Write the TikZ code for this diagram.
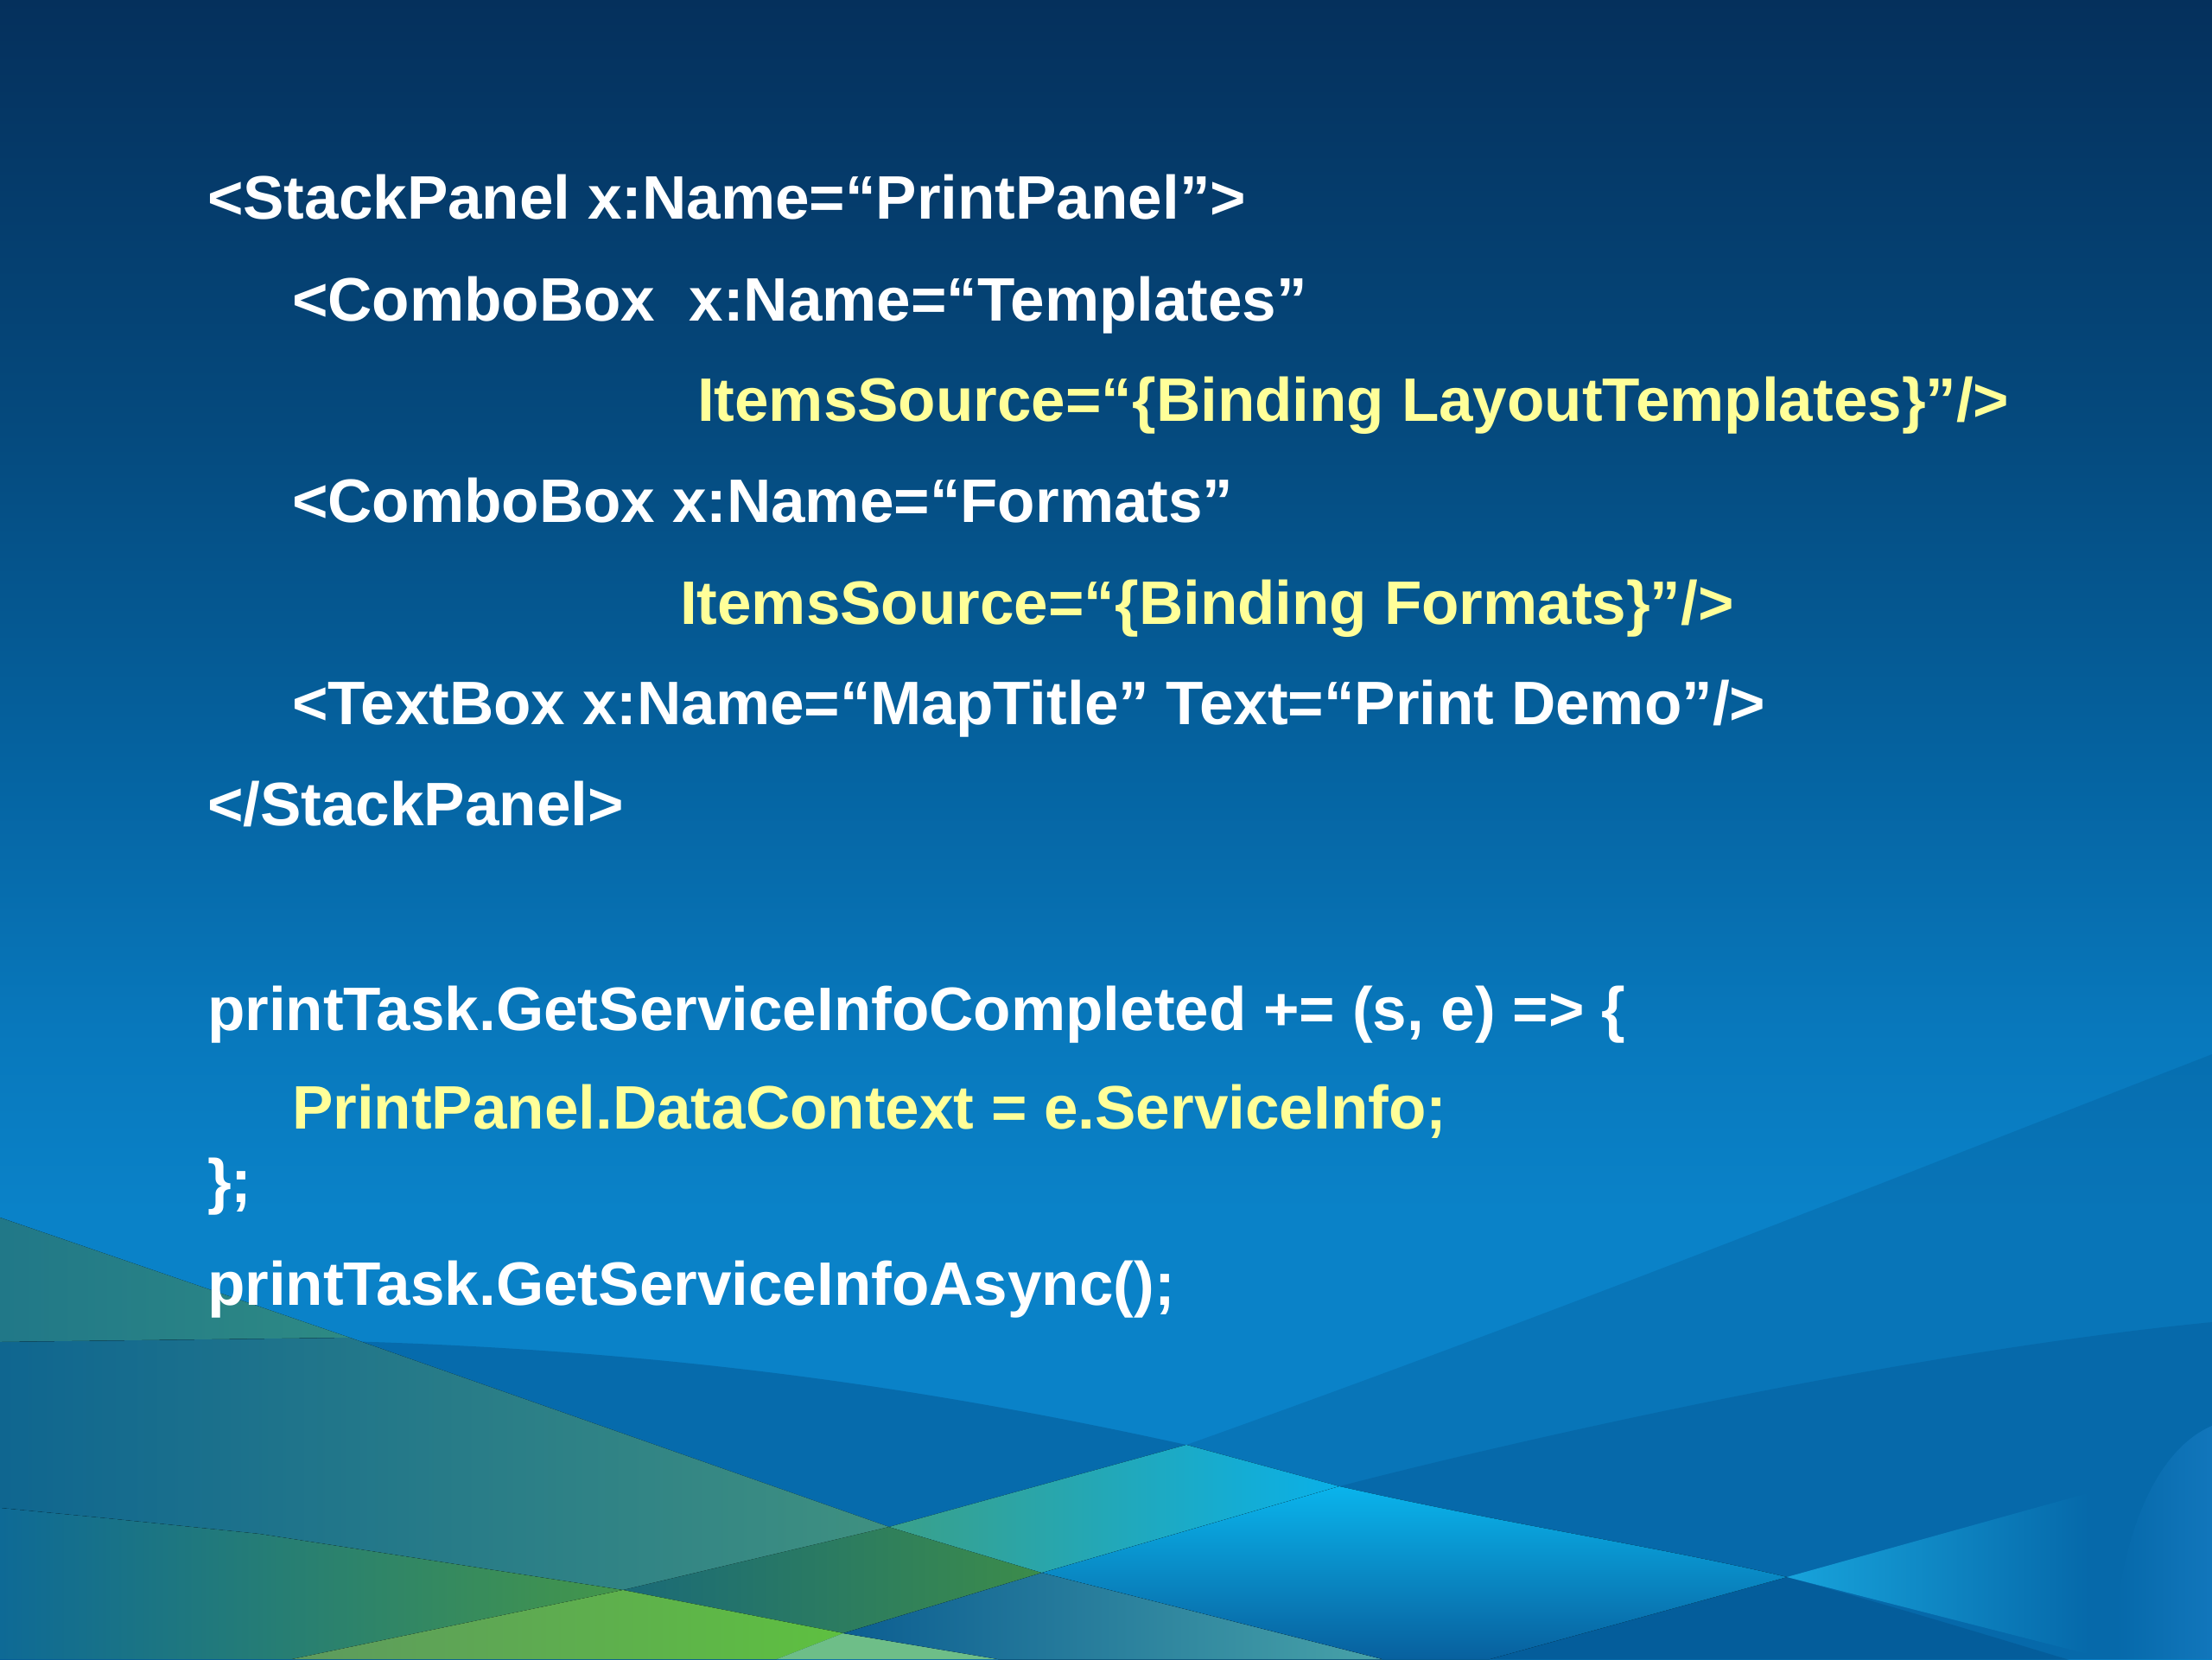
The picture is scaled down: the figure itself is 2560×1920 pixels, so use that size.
\documentclass[tikz,border=0pt]{standalone}
\usepackage{fontspec}
\setmainfont{Liberation Sans}
\usetikzlibrary{fadings}
\definecolor{bgA}{HTML}{05305C}
\definecolor{bgB}{HTML}{054A7E}
\definecolor{bgC}{HTML}{0564A2}
\definecolor{bgD}{HTML}{0878BC}
\definecolor{bgE}{HTML}{0A82C8}
\definecolor{dkblue}{HTML}{03508A}
\definecolor{codeyellow}{HTML}{FFFF99}
\definecolor{tealA}{HTML}{217888}
\definecolor{tealB}{HTML}{2E8A84}
\definecolor{ubA}{HTML}{0F6690}
\definecolor{ubM}{HTML}{2A7E84}
\definecolor{ubB}{HTML}{5AA878}
\definecolor{rhA}{HTML}{1A6A78}
\definecolor{rhB}{HTML}{3C8C4A}
\definecolor{lbA}{HTML}{0E6A96}
\definecolor{lbB}{HTML}{44964A}
\definecolor{rlA}{HTML}{5E9A5E}
\definecolor{rlB}{HTML}{5EC040}
\definecolor{pale}{HTML}{6EBE88}
\definecolor{r2A}{HTML}{0C5E92}
\definecolor{r2B}{HTML}{48A2A8}
\definecolor{cyA}{HTML}{3AA08A}
\definecolor{cyB}{HTML}{0AB0E8}
\definecolor{wgA}{HTML}{0AB4EC}
\definecolor{wgM}{HTML}{0A90CC}
\definecolor{wgB}{HTML}{08609E}
\definecolor{strA}{HTML}{18A4DC}
\definecolor{glowB}{HTML}{1A80C8}
\pgfdeclareverticalshading{bgshade}{100bp}{color(0bp)=(bgE); color(25bp)=(bgE); color(38.5bp)=(bgE); color(44bp)=(bgD); color(51.6bp)=(bgC); color(62bp)=(bgB); color(75bp)=(bgA); color(100bp)=(bgA)}
\begin{document}
\begin{tikzpicture}[x=0.01cm,y=-0.01cm,
  codetext/.style={anchor=base west, inner sep=0pt, outer sep=0pt, text=white,
    font=\bfseries\fontsize{20.2pt}{24pt}\selectfont},
  yeltext/.style={codetext, text=codeyellow}]
\useasboundingbox (0,0) rectangle (2560,1920);
% background
\fill[shading=bgshade] (0,0) rectangle (2560,1920);
% darker below rising edge U
\fill[dkblue, opacity=0.25] (700,1920) -- (1029,1767) -- (1373,1672)
   .. controls (1800,1520) and (2200,1360) .. (2560,1220) -- (2560,1920) -- cycle;
% darker below W
\fill[dkblue, opacity=0.3] (980,1920) -- (1206,1820) -- (1550,1720)
   .. controls (1750,1668) and (2200,1565) .. (2560,1530) -- (2560,1920) -- cycle;
% dark arc band
\fill[dkblue, opacity=0.45] (0,1553) .. controls (600,1535) and (1000,1590) .. (1373,1672)
   -- (1550,1720) .. controls (1750,1765) and (1920,1790) .. (2068,1825)
   .. controls (2250,1875) and (2420,1930) .. (2560,1970) -- (0,1970) -- cycle;
% (a) teal wedge above arc
\fill[left color=tealA, right color=tealB] (0,1409) -- (405,1548) -- (0,1553) -- cycle;
% (b) upper green band below arc
\fill[left color=ubA, middle color=ubM, right color=ubB] (0,1553) -- (405,1548) -- (1029,1767) -- (1206,1820) -- (1600,1920)
   -- (1155,1920) -- (976,1890) -- (721,1840) -- (300,1775) -- (124,1757) -- (0,1745) -- cycle;
% (c) ribbon over upper band
\fill[left color=rhA, right color=rhB] (1029,1767) -- (1206,1820) -- (976,1890) -- (721,1840) -- cycle;
% (d) lower green band
\fill[left color=lbA, right color=lbB] (0,1745) -- (124,1757) -- (300,1775) -- (721,1840) -- (338,1920) -- (0,1920) -- cycle;
% (e) ribbon over lower band
\fill[left color=rlA, right color=rlB] (721,1840) -- (976,1890) -- (899,1920) -- (338,1920) -- cycle;
% (f) pale green
\fill[pale] (976,1890) -- (1155,1920) -- (899,1920) -- cycle;
% (g) second ribbon over upper band
\fill[left color=r2A, right color=r2B] (1206,1820) -- (1600,1920) -- (1155,1920) -- (976,1890) -- cycle;
% (h) cyan quad
\fill[left color=cyA, right color=cyB] (1029,1767) -- (1373,1672) -- (1550,1720) -- (1206,1820) -- cycle;
% (i) second ribbon below arc
\fill[top color=wgA, middle color=wgM, bottom color=wgB] (1206,1820) -- (1550,1720)
   .. controls (1750,1765) and (1920,1790) .. (2068,1825) -- (1724,1920) -- (1600,1920) -- cycle;
% (j) right streak, fading out to the right
\fill[strA, path fading=east] (2068,1825) -- (2420,1727) -- (2420,1915) -- cycle;
% (k) right glow, soft
\fill[glowB, opacity=0.6, path fading=west] (2560,1650) .. controls (2490,1680) and (2450,1790) .. (2445,1920) -- (2560,1920) -- cycle;
% code text
\node[codetext] (l1) at (240,253) {<StackPanel x:Name=“PrintPanel”>};
\node[codetext] (l2) at (338,371) {<ComboBox\ \ x:Name=“Templates”};
\node[yeltext] (l3) at (807,487) {ItemsSource=“\{Binding LayoutTemplates\}”/>};
\node[codetext] (l4) at (338,604) {<ComboBox x:Name=“Formats”};
\node[yeltext] (l5) at (787,722) {ItemsSource=“\{Binding Formats\}”/>};
\node[codetext] (l6) at (338,838) {<TextBox x:Name=“MapTitle” Text=“Print Demo”/>};
\node[codetext] (l7) at (240,955) {</StackPanel>};
\node[codetext] (l8) at (240,1192) {printTask.GetServiceInfoCompleted += (s, e) => \{};
\node[yeltext] (l9) at (338,1306) {PrintPanel.DataContext = e.ServiceInfo;};
\node[codetext] (l10) at (240,1391) {\};};
\node[codetext] (l11) at (240,1510) {printTask.GetServiceInfoAsync();};
\end{tikzpicture}
\end{document}
